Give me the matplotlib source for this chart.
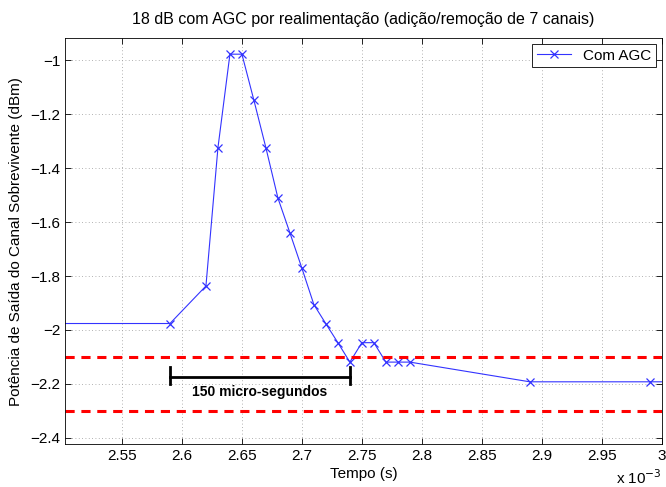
import matplotlib
matplotlib.use("Agg")
import matplotlib.pyplot as plt

plt.rcParams['font.family'] = ['Liberation Sans', 'DejaVu Sans']

# time in units of 1e-3 s
tempo = [2.50, 2.59, 2.62, 2.63, 2.64, 2.65, 2.66, 2.67, 2.68, 2.69, 2.70,
         2.71, 2.72, 2.73, 2.74, 2.75, 2.76, 2.77, 2.78, 2.79, 2.89, 2.99, 3.00]
potencia = [-1.976, -1.976, -1.837, -1.325, -0.978, -0.978, -1.149, -1.325,
            -1.511, -1.640, -1.771, -1.906, -1.977, -2.047, -2.119, -2.047,
            -2.047, -2.119, -2.119, -2.119, -2.192, -2.192, -2.192]
marker_mask = [False] + [True] * 21 + [False]
limites = [-2.1, -2.3]
intervalo = [2.59, 2.74]
intervalo_texto = "150 micro-segundos"

fig = plt.figure(figsize=(6.66, 4.87), dpi=100)
ax = fig.add_axes([0.0976, 0.088, 0.896, 0.834])

ax.plot(tempo, potencia, color='#3333ff', lw=0.8)
mx = [t for t, m in zip(tempo, marker_mask) if m]
my = [p for p, m in zip(potencia, marker_mask) if m]
ax.plot(mx, my, ls='none', marker='x', color='#3333ff', ms=6, mew=0.9)
proxy, = ax.plot([], [], color='#3333ff', lw=0.8, marker='x', ms=6, mew=0.9, label='Com AGC')

for y in limites:
    ax.axhline(y, color='red', ls=(0, (3, 2.2)), lw=2.2)

# bracket
yb = -2.176
ax.plot(intervalo, [yb, yb], color='black', lw=2)
for x in intervalo:
    ax.plot([x, x], [-2.136, -2.2], color='black', lw=2)
ax.text(sum(intervalo) / 2, -2.229, intervalo_texto, ha='center', va='center',
        fontsize=10, fontweight='bold')

ax.set_xlim(2.5025, 3.0)
ax.set_ylim(-2.423, -0.918)
ax.set_xticks([2.55, 2.6, 2.65, 2.7, 2.75, 2.8, 2.85, 2.9, 2.95, 3.0])
ax.set_xticklabels(['2.55', '2.6', '2.65', '2.7', '2.75', '2.8', '2.85', '2.9', '2.95', '3'])
ax.set_yticks([-1, -1.2, -1.4, -1.6, -1.8, -2, -2.2, -2.4])
ax.set_yticklabels(['\u22121', '\u22121.2', '\u22121.4', '\u22121.6', '\u22121.8',
                    '\u22122', '\u22122.2', '\u22122.4'])
ax.tick_params(direction='in', top=True, right=True, labelsize=11, length=4, width=0.6)
ax.grid(True, ls=(0, (1, 3)), color='#999999', lw=0.6)
for s in ax.spines.values():
    s.set_linewidth(0.6)

ax.set_title('18 dB com AGC por realimentação (adição/remoção de 7 canais)', fontsize=11.5, pad=10)
ax.set_xlabel('Tempo (s)', fontsize=11, labelpad=3)
ax.set_ylabel('Potência de Saída do Canal Sobrevivente (dBm)', fontsize=11, labelpad=5)
fig.text(0.993, 0.0, 'x 10$^{-3}$', fontsize=11, ha='right', va='bottom')

leg = ax.legend(handles=[proxy], loc='upper right', fontsize=11, fancybox=False,
                edgecolor='black', framealpha=1, borderaxespad=0.4, handlelength=2.2,
                borderpad=0.3)
leg.get_frame().set_linewidth(0.6)

fig.savefig('out.png', dpi=100)
